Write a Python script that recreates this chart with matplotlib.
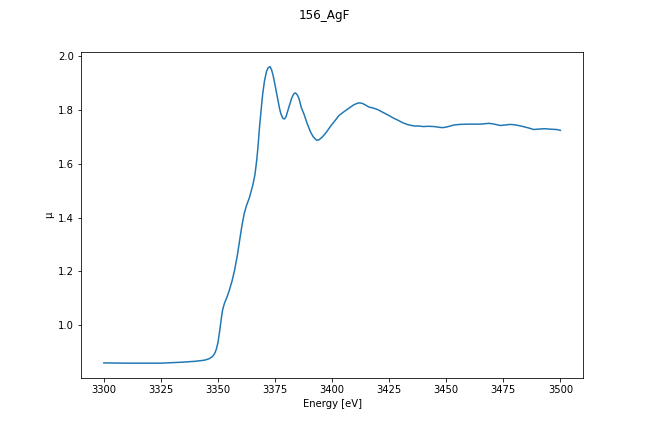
import numpy as np
import matplotlib
matplotlib.use("Agg")
import matplotlib.pyplot as plt

# XANES spectrum
energy = [3300, 3310, 3320, 3325, 3330, 3335, 3340, 3344, 3346, 3347.5,
          3348.5, 3349.3, 3350, 3350.7, 3351.4, 3352, 3352.8, 3354, 3355, 3356.2,
          3357.3, 3358.5, 3359.5, 3360.5, 3361.5, 3362.5, 3363.8, 3365.3, 3366.2, 3367,
          3367.6, 3368.2, 3368.9, 3369.6, 3370.4, 3371.3, 3372, 3372.8, 3373.5, 3374.2,
          3375.2, 3376.1, 3377, 3377.6, 3378.4, 3379.1, 3379.8, 3380.5, 3381.2, 3382.3,
          3383.3, 3384, 3384.8, 3385.5, 3386.5, 3387.7, 3389, 3390.6, 3391.8, 3393.2,
          3394.3, 3395.7, 3397.5, 3399.3, 3401, 3403, 3405, 3407.3, 3409.5, 3411.5,
          3413, 3414.5, 3416, 3418, 3420, 3422, 3424.5, 3427, 3429, 3431,
          3433.2, 3436, 3438, 3440, 3442, 3444.8, 3447, 3448.5, 3450.5, 3453.5,
          3456, 3459.3, 3462, 3465, 3468.7, 3470.5, 3473.7, 3476, 3478.1, 3480.5,
          3483.2, 3486, 3488.3, 3491, 3493.3, 3496, 3498.4, 3500]
mu = [0.859, 0.858, 0.858, 0.858, 0.860, 0.862, 0.865, 0.869, 0.874, 0.882,
      0.893, 0.910, 0.935, 0.975, 1.020, 1.055, 1.080, 1.105, 1.130, 1.165,
      1.205, 1.260, 1.316, 1.370, 1.415, 1.445, 1.475, 1.522, 1.560, 1.615,
      1.670, 1.737, 1.800, 1.861, 1.910, 1.945, 1.958, 1.962, 1.950, 1.928,
      1.885, 1.845, 1.805, 1.786, 1.770, 1.767, 1.775, 1.795, 1.815, 1.845,
      1.862, 1.864, 1.856, 1.843, 1.810, 1.785, 1.752, 1.718, 1.700, 1.688,
      1.690, 1.700, 1.718, 1.740, 1.758, 1.780, 1.793, 1.807, 1.820, 1.827,
      1.826, 1.820, 1.812, 1.808, 1.802, 1.793, 1.782, 1.770, 1.762, 1.753,
      1.746, 1.741, 1.741, 1.739, 1.740, 1.739, 1.736, 1.735, 1.738, 1.745,
      1.747, 1.748, 1.748, 1.748, 1.751, 1.749, 1.743, 1.745, 1.747, 1.745,
      1.740, 1.734, 1.728, 1.730, 1.731, 1.729, 1.728, 1.725]

fig, ax = plt.subplots(figsize=(9, 6), dpi=72)
fig.subplots_adjust(bottom=0.125)
ax.plot(np.array(energy), np.array(mu))
fig.suptitle('156_AgF')
ax.set_xlabel('Energy [eV]')
ax.set_ylabel('μ')

fig.savefig('out.png')
